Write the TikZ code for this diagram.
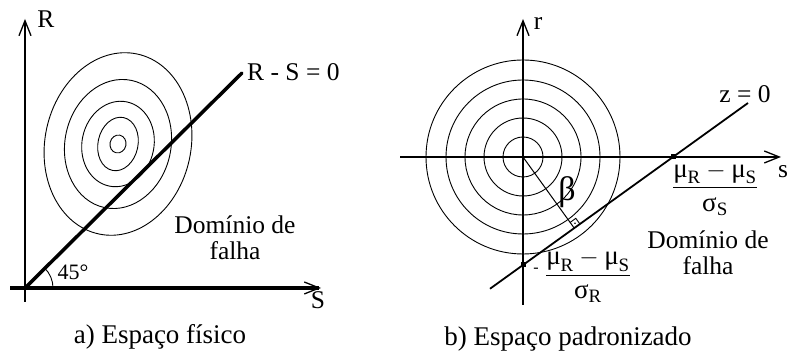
\documentclass[tikz,border=0pt]{standalone}
\usepackage{fontspec}
\usepackage{amsmath}
\setmainfont{Liberation Serif}
\usetikzlibrary{arrows.meta,calc}
\begin{document}
\begin{tikzpicture}[x=1pt,y=1pt,
  thinax/.style={line width=1.2pt},
  contour/.style={line width=0.9pt},
  thickln/.style={line width=3.5pt},
  medln/.style={line width=1.8pt},
  barb/.style={-{Straight Barb[length=15pt,width=12pt,line width=1.3pt]}},
  lbl/.style={font=\fontsize{25.5}{26}\selectfont, inner sep=0pt},
  caplbl/.style={font=\fontsize{27}{28}\selectfont, inner sep=0pt},
  fraclbl/.style={font=\fontsize{27}{28}\selectfont, inner sep=0pt},
  dot/.style={fill=black, minimum size=5pt, inner sep=0pt, draw=none}
]
\useasboundingbox (0,0) rectangle (789,352);

% ---------- left panel ----------
\coordinate (O1) at (25,64);
\coordinate (Rbot) at (25,50);
\coordinate (Rtop) at (25,333);
\coordinate (Sleft) at (10,64);
\coordinate (Sright) at (321,64);
\coordinate (Lend) at (242,279);
\coordinate (C1) at (118,208);

\foreach \a/\b in {73/92,53/65,36/43,20/27,8/9}
  \draw[contour, rotate around={-12:(C1)}] (C1) ellipse[x radius=\a, y radius=\b];

\draw[thinax, barb] (Rbot) -- (Rtop);
\draw[thickln, barb] (Sleft) -- (Sright);
\draw[thickln, line cap=round] (O1) -- (Lend);
\draw[line width=0.9pt] ($(O1)+(28,0)$) arc[start angle=0, end angle=45, radius=28];

\node[lbl] (Rlab) at (46,333) {R};
\node[lbl] (Slab) at (318,52) {S};
\node[lbl, anchor=west] (RSlab) at (247,280) {R - S = 0};
\node[lbl, font=\fontsize{22}{23}\selectfont] (ang) at (73,80) {45°};
\node[lbl, align=center] (dom1) at (235,114) {Domínio de\\falha};
\node[caplbl] (capa) at (160,15) {a) Espaço físico};

% ---------- right panel ----------
\coordinate (O2) at (523,195);
\coordinate (rbot) at (523,47);
\coordinate (rtop) at (523,333);
\coordinate (sleft) at (400,195);
\coordinate (sright) at (781,195);
\coordinate (A) at (673,195);
\coordinate (B) at (523,87);

\foreach \r in {20,39,58,77,97}
  \draw[contour] (O2) circle[radius=\r];

\draw[thinax, barb] (rbot) -- (rtop);
\draw[thinax, barb] (sleft) -- (sright);

\coordinate (zs) at ($(B)!-0.22!(A)$);
\coordinate (ze) at ($(A)!-0.5!(B)$);
\draw[medln] (zs) -- (ze);

\coordinate (F) at ($(A)!(O2)!(B)$);
\draw[line width=1pt] (O2) -- (F);
\coordinate (P1) at ($(F)!7pt!(A)$);
\coordinate (P3) at ($(F)!7pt!(O2)$);
\draw[line width=0.9pt] (P1) -- ($(P1)+(P3)-(F)$) -- (P3);
\fill ($(F)!0.5!($(P1)+(P3)-(F)$)$) circle[radius=0.8pt];

\node[dot] (dA) at (A) {};
\node[dot] (dB) at (B) {};

\node[lbl] (rlab) at (538,328) {r};
\node[lbl] (slab) at (783,180) {s};
\node[lbl] (zlab) at (745,258) {z = 0};
\node[lbl, font=\fontsize{34}{36}\selectfont] (beta) at (567,160) {β};
\node[fraclbl] (fracS) at (715,163)
  {$\dfrac{\text{μ}_{\text{R}} - \text{μ}_{\text{S}}}{\text{σ}_{\text{S}}}$};
\node[fraclbl] (fracR) at (588,76)
  {$\dfrac{\text{μ}_{\text{R}} - \text{μ}_{\text{S}}}{\text{σ}_{\text{R}}}$};
\node[lbl, font=\fontsize{16}{18}\selectfont] (minus) at (536,82) {-};
\node[lbl, align=center] (dom2) at (708,99) {Domínio de\\falha};
\node[caplbl] (capb) at (568,13) {b) Espaço padronizado};
\end{tikzpicture}
\end{document}
